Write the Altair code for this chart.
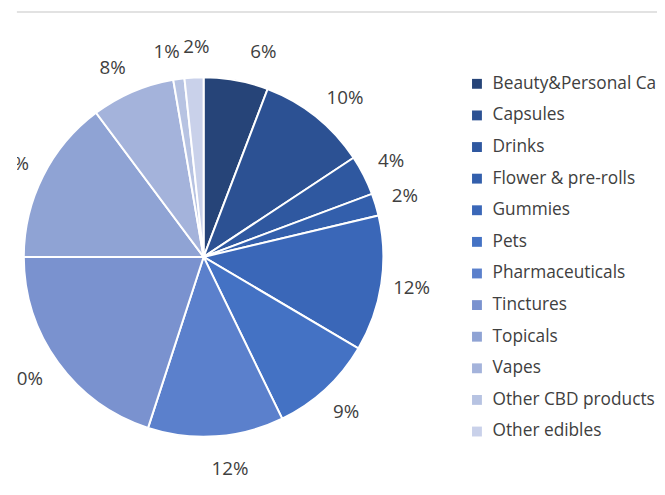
import altair as alt
import pandas as pd

categories = ["Beauty&Personal Care", "Capsules", "Drinks", "Flower & pre-rolls",
              "Gummies", "Pets", "Pharmaceuticals", "Tinctures", "Topicals",
              "Vapes", "Other CBD products", "Other edibles"]
shares = [5.8, 9.9, 3.6, 2.0, 12.2, 9.3, 12.2, 20.0, 14.8, 7.5, 1.0, 1.7]
colors = ["#264478", "#2c5193", "#2f58a0", "#335fac", "#3a67b8", "#4472c4",
          "#5b80cc", "#7a92cf", "#8fa3d4", "#a4b3db", "#b7c3e2", "#c9d1ea"]

df = pd.DataFrame({"category": categories, "share": shares,
                   "idx": list(range(len(categories)))})

W, H = 648, 487
CX, CY, R = 189, 249, 182
FONT = "Open Sans"

# small label nudges (like the spreadsheet's best-fit label layout)
nudge_dx = {"Beauty&Personal Care": 22, "Capsules": 10, "Pharmaceuticals": 12,
            "Tinctures": -9, "Topicals": -5, "Vapes": -8,
            "Other CBD products": -8, "Other edibles": 4}
nudge_dy = {"Beauty&Personal Care": 2, "Capsules": 5, "Pharmaceuticals": 2,
            "Tinctures": -2, "Topicals": 1, "Vapes": 5,
            "Other CBD products": 4}


def lookup_expr(d):
    parts = [f"datum.category === '{k}' ? {v} : " for k, v in d.items()]
    return "".join(parts) + "0"


base = alt.Chart(df).encode(
    theta=alt.Theta("share:Q", stack=True),
    order=alt.Order("idx:Q"),
)

pie = base.mark_arc(stroke="white", strokeWidth=2).encode(
    x=alt.value(CX), y=alt.value(CY),
    radius=alt.value(R),
    color=alt.Color("category:N",
                    scale=alt.Scale(domain=categories, range=colors),
                    sort=categories,
                    legend=alt.Legend(title=None, orient="none",
                                      legendX=457, legendY=65,
                                      symbolType="square", symbolSize=100,
                                      symbolStrokeWidth=0,
                                      labelFontSize=17.5, labelFont=FONT,
                                      labelColor="#404040", labelLimit=500,
                                      labelOffset=7, rowPadding=13,
                                      padding=0)),
)

labels = base.transform_calculate(
    txt="format(datum.share / 100, '.0%')"
).mark_text(radius=213, fontSize=19, font=FONT, color="#404040",
            clip=True,
            dx=alt.expr(lookup_expr(nudge_dx)),
            dy=alt.expr(lookup_expr(nudge_dy))).encode(
    x=alt.value(CX), y=alt.value(CY),
    text="txt:N",
)

rule = alt.Chart(pd.DataFrame({"a": [0]})).mark_rule(
    color="#d9d9d9", strokeWidth=1.5).encode(
    x=alt.value(0), x2=alt.value(W), y=alt.value(1))

chart = alt.layer(rule, pie, labels).properties(
    width=W, height=H,
    autosize=alt.AutoSizeParams(type="none"),
    padding={"left": 9, "top": 0, "right": 0, "bottom": 0},
).configure_view(stroke=None)

chart.save("out.html", embed_options={"renderer": "svg", "actions": False})
